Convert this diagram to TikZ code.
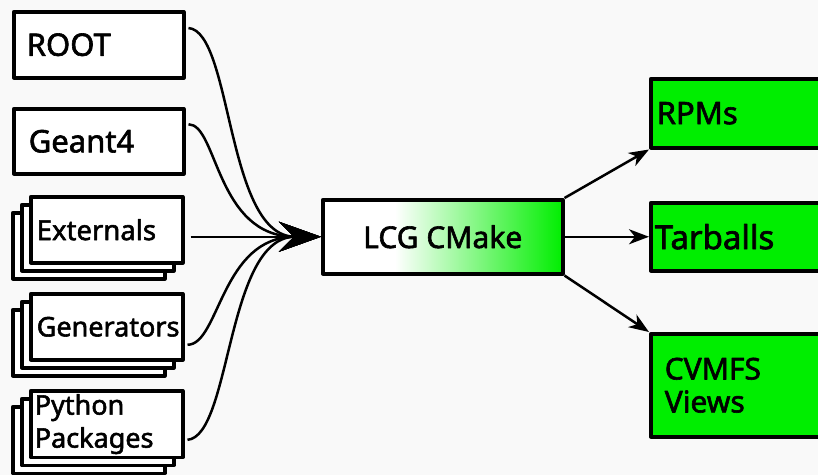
\documentclass[tikz,border=0pt]{standalone}
\usepackage{fontspec}
\setmainfont{Noto Sans}[AutoFakeBold=2]
\usetikzlibrary{arrows.meta,shadows}
\definecolor{lcggreen}{RGB}{0,238,0}
\definecolor{paper}{RGB}{249,249,249}
\pgfdeclarehorizontalshading{cmakeshade}{100bp}{color(0bp)=(white); color(40bp)=(white); color(75bp)=(lcggreen); color(100bp)=(lcggreen)}

\begin{document}
\begin{tikzpicture}[x=1pt,y=-1pt, line join=round, >=Stealth,
		font=\bfseries\fontsize{31}{33}\selectfont,
		box/.style={draw, line width=3.5pt, anchor=north west, align=left},
		srcbox/.style={box, fill=white},
		stackbox/.style={srcbox, inner xsep=6pt, text width=140pt, minimum height=66pt,
			copy shadow={shadow xshift=-18pt, shadow yshift=-16pt, line width=3.5pt},
			copy shadow={shadow xshift=-9pt, shadow yshift=-8pt, line width=3.5pt}},
		outbox/.style={box, fill=lcggreen, inner xsep=6pt, text width=188pt},
		inarrow/.style={line width=2.5pt, shorten <=3pt, -{Stealth[length=42pt,width=30pt,inset=15pt]}},
		outarrow/.style={line width=2.5pt, -{Stealth[length=20pt,width=15pt,inset=6pt]}}]
	\useasboundingbox (0,0) rectangle (818,475);
	\fill[paper] (0,0) rectangle (818,475);

	% inputs
	\node[srcbox, inner xsep=13pt, text width=144pt, minimum height=66pt] (root) at (12,10) {ROOT};
	\node[srcbox, inner xsep=15pt, text width=140pt, minimum height=65pt] (geant) at (12,107) {Geant4};
	\node[stackbox] (ext) at (29,195) {\fontsize{27.5}{29}\selectfont Externals};
	\node[stackbox] (gen) at (29,292) {\fontsize{27}{29}\selectfont Generators};
	\node[stackbox, inner xsep=4pt, text width=144pt] (py) at (29,389) {\fontsize{27}{26.5}\selectfont Python\\Packages};

	% build
	\node[box, shade, shading=cmakeshade, minimum width=240pt, minimum height=74pt] (lcg) at (321,198) {\fontsize{30}{32}\selectfont LCG CMake};

	% outputs
	\node[outbox, minimum height=69pt] (rpm) at (649,77) {RPMs};
	\node[outbox, inner xsep=4pt, text width=192pt, minimum height=68pt] (tar) at (649,201) {\fontsize{33}{35}\selectfont Tarballs};
	\node[outbox, inner xsep=14pt, text width=172pt, minimum height=103pt] (cvmfs) at (649,332) {\fontsize{30}{36}\selectfont CVMFS\\Views};

	\draw[inarrow] ([yshift=17pt]root.east) .. controls +(47,4) and +(-95,0) .. (lcg.west);
	\draw[inarrow] ([yshift=17pt]geant.east) .. controls +(32,0) and +(-105,0) .. (lcg.west);
	\draw[inarrow, shorten <=6pt] ([yshift=-7pt]ext.east) -- (lcg.west);
	\draw[inarrow] ([yshift=-18pt]gen.east) .. controls +(35,0) and +(-100,0) .. (lcg.west);
	\draw[inarrow] ([yshift=-16pt]py.east) .. controls +(47,-4) and +(-95,0) .. (lcg.west);

	\draw[outarrow] (lcg.north east) -- (rpm.south west);
	\draw[outarrow] (lcg.east) -- (lcg.east -| tar.west);
	\draw[outarrow] (lcg.south east) -- (cvmfs.north west);
\end{tikzpicture}
\end{document}
